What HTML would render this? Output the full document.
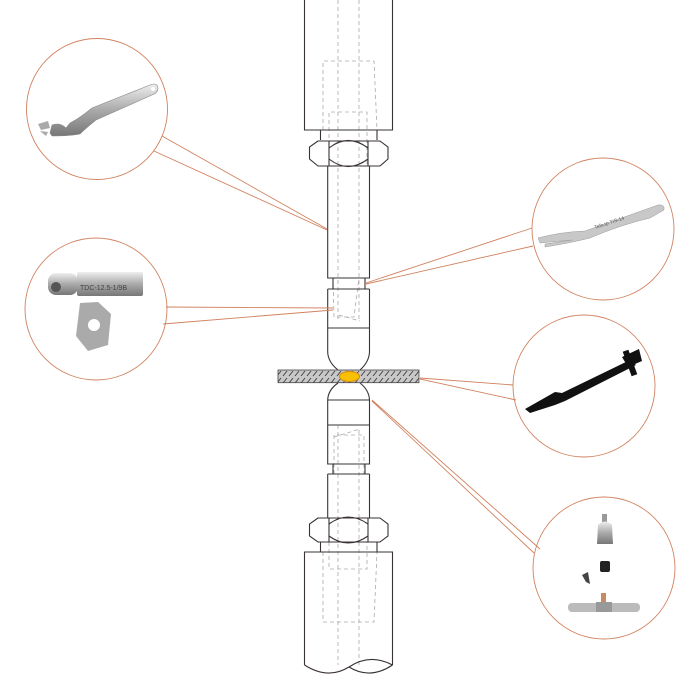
<!DOCTYPE html>
<html><head><meta charset="utf-8"><style>html,body{margin:0;padding:0;background:#fff}svg{display:block}</style></head>
<body>
<svg width="700" height="700" viewBox="0 0 700 700" xmlns="http://www.w3.org/2000/svg">
<defs>
<pattern id="hatch" width="6" height="13" patternUnits="userSpaceOnUse">
<rect width="6" height="13" fill="#c8c8c8"/>
<line x1="1" y1="6" x2="5" y2="1" stroke="#333" stroke-width="0.8"/>
<line x1="1" y1="12" x2="5" y2="7" stroke="#333" stroke-width="0.8"/>
</pattern>
<linearGradient id="steel" x1="0" y1="0" x2="0" y2="1"><stop offset="0" stop-color="#eee"/><stop offset="0.5" stop-color="#aaa"/><stop offset="1" stop-color="#777"/></linearGradient>
</defs>
<g fill="none" stroke="#aaa" stroke-width="0.8" stroke-dasharray="4,3">
<line x1="338" y1="0" x2="338" y2="320"/><line x1="359" y1="0" x2="359" y2="322"/>
<path d="M323,130 L323,61 L374,61 L377,130"/>
<path d="M329,166 L329,112 L367,112 L367,166"/>
<path d="M333,278 L334,317 L354,317 L359,278"/>
<path d="M339,315 L360,321"/>
<line x1="338" y1="425" x2="338" y2="665"/><line x1="359" y1="430" x2="359" y2="665"/>
<path d="M334,474 L334,435 L364,435 L364,474"/><path d="M334,437 L360,429"/>
<path d="M329,542 L329,569 L367,569 L367,542"/>
<path d="M323,552 L323,622 L374,622 L377,552"/>
</g>
<g fill="none" stroke="#3a3333" stroke-width="1.1">
<path d="M304.5,0 V130 H392.5 V0"/>
<path d="M320.5,130 V140 M377,130 V140"/>
<path d="M318,141 L309.5,147 V159 L318,166 H380 L388,159 V147 L380,141 Z"/>
<path d="M329,141 V166 M368,141 V166"/>
<path d="M329,148 Q348,133 368,148 M329,159 Q348,174 368,159"/>
<path d="M327.7,166 V278 H369.5 V166"/>
<path d="M333,278 V289 M365,278 V289"/>
<path d="M327.7,289 H369.5 M327.7,289 V352 Q328,362 338,370 M369.5,289 V352 Q369,362 360,370"/>
<path d="M327.7,328 H369.5"/>
<path d="M338,383 Q328,390 327.7,400 V464 H369.5 V400 Q369,390 360,383"/>
<path d="M327.7,400 H369.5 M327.7,425 H369.5"/>
<path d="M333,464 V474 M365,464 V474"/>
<path d="M327.7,474 H369.5 M327.7,474 V518 M369.5,474 V518"/>
<path d="M318,518 L309.5,524 V536 L318,542 H380 L388,536 V524 L380,518 Z"/>
<path d="M329,518 V542 M368,518 V542"/>
<path d="M329,524 Q348,510 368,524 M329,536 Q348,550 368,536"/>
<path d="M320.5,542 V552 M377,542 V552"/>
<path d="M304.5,665 V552 H392.5 V665"/>
<path d="M304.5,665 Q328,680 349,667 Q370,653 392.5,665"/>
<path d="M349,667 Q370,680 392.5,665"/>
</g>
<rect x="278" y="370" width="141" height="12.7" fill="url(#hatch)" stroke="#444" stroke-width="0.8"/>
<ellipse cx="349.5" cy="376.5" rx="10" ry="5" fill="#f7c000" stroke="#e08a00" stroke-width="1"/>
<g stroke="#d0825f" stroke-width="0.9" fill="none">
<circle cx="97" cy="109" r="70.5"/>
<circle cx="96" cy="309" r="71"/>
<circle cx="603" cy="229" r="71"/>
<circle cx="584" cy="386" r="71"/>
<circle cx="604" cy="568" r="71"/>
<path d="M162,136 L327,229 M154,151 L327,230"/>
<path d="M166,307 L333,308 M163,324 L333,310"/>
<path d="M532,228 L366,283 M533,246 L366,284"/>
<path d="M513,385 L420,378 M516,400 L420,379"/>
<path d="M540,549 L372,400 M534,553 L372,401"/>
</g>
<!-- wrench top-left -->
<g>
<path d="M50,133 L52,125 Q60,122 66,128 L70,123 Q80,118 92,108 L150,85 Q157,82 158,88 Q158,93 152,95 L96,120 Q86,128 80,134 Q70,136 52,136 Z" fill="url(#steel)" stroke="#888" stroke-width="0.6"/>
<path d="M38,124 L48,121 L50,128 L41,130 Z M40,131 L48,132 L46,136 Z" fill="#aaa"/>
<circle cx="153" cy="89" r="2" fill="#fff"/>
</g>
<!-- bolt/nut -->
<g>
<rect x="48" y="273" width="30" height="22" rx="8" fill="url(#steel)"/>
<circle cx="56" cy="287" r="5" fill="#555"/>
<rect x="77" y="272" width="66" height="24" rx="2" fill="url(#steel)"/>
<text x="80" y="290" font-family="Liberation Sans, sans-serif" font-size="7" fill="#444">TDC-12.5-1/9B</text>
<path d="M80,303 L98,302 L111,314 L108,345 L88,351 L76,336 Z" fill="#aaa"/>
<circle cx="94" cy="325" r="6" fill="#fff"/>
</g>
<!-- fork right top -->
<g>
<path d="M538,238 Q560,232 585,231 L658,205 Q665,204 664,210 L650,218 Q620,225 590,238 Q570,243 545,247 L545,244 Q560,242 572,240 L540,243 Z" fill="#c8c8c8" stroke="#999" stroke-width="0.5"/>
<text x="595" y="229" font-family="Liberation Sans, sans-serif" font-size="5" fill="#555" transform="rotate(-18 595 229)">Tefs.tp  TIS-14</text>
</g>
<!-- black tool -->
<g fill="#111">
<path d="M525,409 L555,392 L562,393 L630,360 L636,365 L565,401 L555,405 L530,413 Z"/>
<rect x="627" y="350" width="6" height="26" transform="rotate(-20 630 363)"/>
<path d="M622,357 L639,349 L642,361 L628,367 Z"/>
</g>
<!-- welding parts -->
<g>
<rect x="602" y="514" width="5" height="10" fill="#999"/>
<path d="M598,525 Q605,518 612,525 L613,544 L597,544 Z" fill="url(#steel)"/>
<rect x="600" y="561" width="10" height="11" rx="2" fill="#222"/>
<path d="M582,575 L588,572 L590,584 L586,582 Z" fill="#444"/>
<rect x="601" y="593" width="5" height="9" fill="#c88a60"/>
<rect x="568" y="603" width="72" height="9" rx="4" fill="#bbb"/>
<path d="M596,602 L612,602 L612,612 L596,612 Z" fill="#999"/>
</g>
</svg>
</body></html>
